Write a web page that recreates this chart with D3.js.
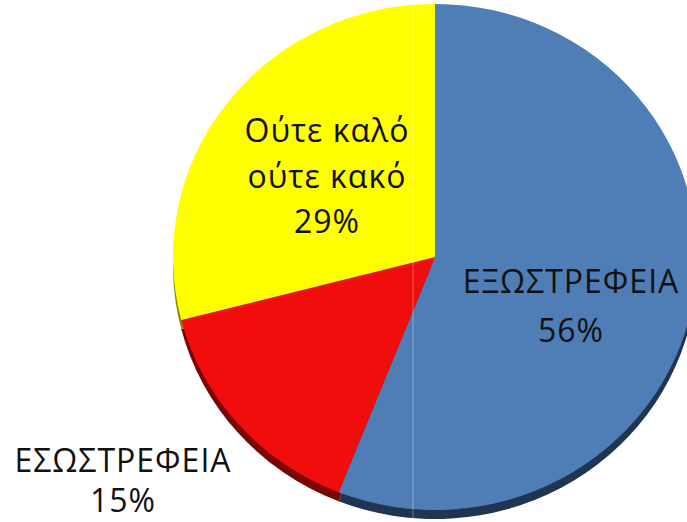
<!DOCTYPE html>
<html>
<head>
<meta charset="utf-8">
<script src="https://cdn.jsdelivr.net/npm/d3@7"></script>
<style>
  body { margin: 0; background: #fff; }
  text { font-family: "Open Sans", "Noto Sans", sans-serif; fill: #111; letter-spacing: 1px; }
</style>
</head>
<body>
<div id="chart"></div>
<script>
// data
var categories = ["ΕΞΩΣΤΡΕΦΕΙΑ", "ΕΣΩΣΤΡΕΦΕΙΑ", "Ούτε καλό ούτε κακό"];
var values = [56, 15, 29];
var labelLines = [["ΕΞΩΣΤΡΕΦΕΙΑ", "56%"], ["ΕΣΩΣΤΡΕΦΕΙΑ", "15%"], ["Ούτε καλό", "ούτε κακό", "29%"]];

var colors = ["#4f7db5", "#f20d0d", "#ffff00"];
var darkColors = ["#1f3552", "#7a0505", "#8a8a00"];

var svgWidth = 687;
var svgHeight = 522;

var cx = 435, cy = 257;
var radius = 262;
var squash = 0.966; // slight tilt of the 3d pie
var depth = 9;

var svg = d3.select("#chart")
  .append("svg")
  .attr("width", svgWidth)
  .attr("height", svgHeight);

var data = categories.map(function(c, i) {
  return { name: c, value: values[i], lines: labelLines[i], i: i };
});

var pie = d3.pie()
  .sort(null)
  .value(d => d.value);

var arc = d3.arc()
  .innerRadius(0)
  .outerRadius(radius);

var arcs = pie(data);

// side of the pie (depth), drawn first
svg.append("g")
  .attr("transform", `translate(${cx}, ${cy + depth}) scale(1, ${squash})`)
  .selectAll("path")
  .data(arcs)
  .enter()
  .append("path")
  .attr("d", arc)
  .attr("fill", d => darkColors[d.data.i]);

// top of the pie
svg.append("g")
  .attr("transform", `translate(${cx}, ${cy}) scale(1, ${squash})`)
  .selectAll("path")
  .data(arcs)
  .enter()
  .append("path")
  .attr("d", arc)
  .attr("fill", d => colors[d.data.i]);

// faint vertical seam seen in the picture
svg.append("line")
  .attr("x1", 413).attr("x2", 413)
  .attr("y1", 0).attr("y2", svgHeight)
  .attr("stroke", "#ffffff")
  .attr("stroke-opacity", 0.35)
  .attr("stroke-width", 1);

// label placement (first baseline, centre x, line step)
var labelPos = [
  { x: 571, y: 293, step: 49 },
  { x: 123, y: 472, step: 40 },
  { x: 327, y: 142, step: 45.5 }
];

var labels = svg.append("g");
data.forEach(function(d) {
  var p = labelPos[d.i];
  var t = labels.append("text")
    .attr("text-anchor", "middle")
    .attr("font-size", 32);
  d.lines.forEach(function(line, k) {
    t.append("tspan")
      .attr("x", p.x)
      .attr("y", p.y + k * p.step)
      .text(line);
  });
});
</script>
</body>
</html>
